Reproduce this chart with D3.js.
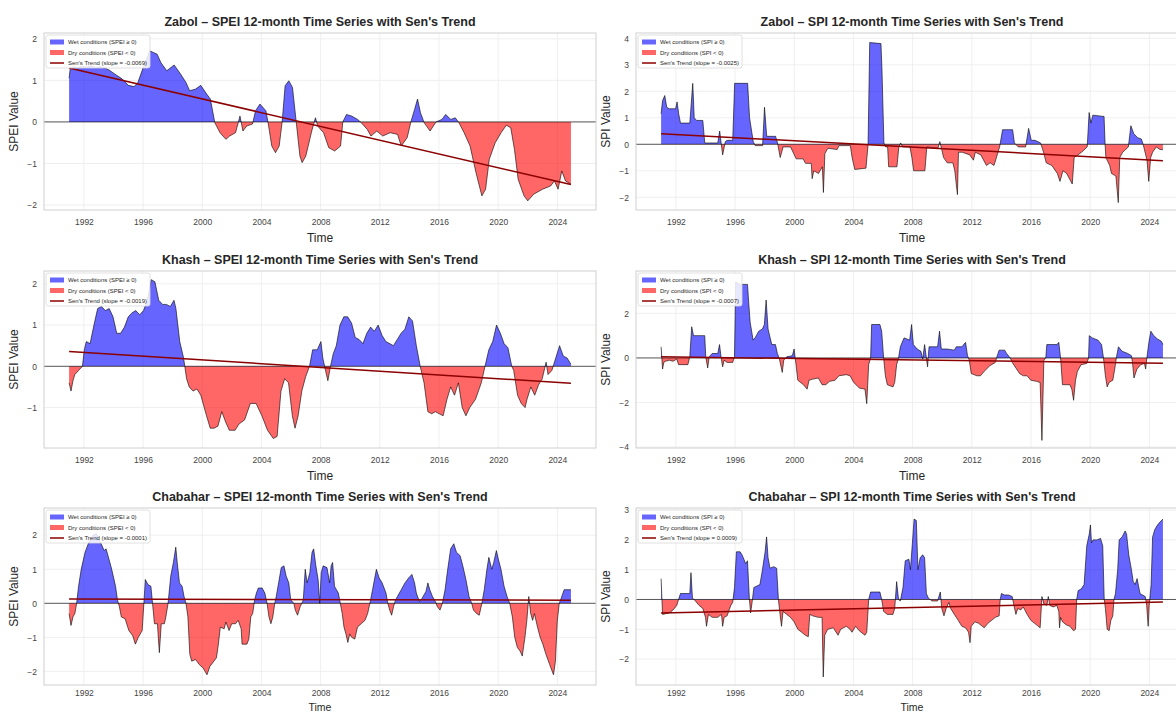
<!DOCTYPE html>
<html>
<head>
<meta charset="utf-8">
<script src="https://cdn.jsdelivr.net/npm/d3@7"></script>
<style>
  body { margin: 0; background: #ffffff; }
  svg { display: block; font-family: "Liberation Sans", Arial, sans-serif; }
</style>
</head>
<body>
<svg id="chart" width="1176" height="714"></svg>
<script>
// ---- 12-month drought index series, [decimal year, value] ----
const zabolSpei = [[1991.0,1.05],[1991.08,1.3],[1991.3,1.33],[1991.6,1.31],[1991.9,1.34],[1992.2,1.32],[1992.5,1.35],[1992.8,1.31],[1993.1,1.33],[1993.4,1.3],[1993.7,1.25],[1994.1,1.15],[1994.6,1.03],[1995.0,0.88],[1995.4,0.85],[1995.65,0.95],[1996.05,1.35],[1996.45,1.71],[1996.7,1.67],[1996.95,1.63],[1997.2,1.43],[1997.6,1.23],[1998.1,1.37],[1998.5,1.17],[1998.9,0.95],[1999.15,0.75],[1999.55,0.79],[1999.9,0.88],[2000.3,0.67],[2000.55,0.55],[2000.85,-0.02],[2001.2,-0.26],[2001.6,-0.42],[2001.85,-0.34],[2002.25,-0.26],[2002.55,0.14],[2002.75,-0.22],[2003.0,-0.1],[2003.4,-0.05],[2003.6,0.27],[2003.9,0.43],[2004.3,0.27],[2004.45,-0.02],[2004.7,-0.58],[2004.95,-0.74],[2005.2,-0.58],[2005.4,0.0],[2005.6,0.87],[2005.85,0.99],[2006.1,0.83],[2006.35,0.0],[2006.6,-0.82],[2006.75,-0.98],[2007.0,-0.82],[2007.4,-0.22],[2007.65,0.1],[2007.8,-0.1],[2008.2,-0.26],[2008.55,-0.62],[2008.95,-0.7],[2009.35,-0.58],[2009.5,0.0],[2009.75,0.18],[2010.1,0.14],[2010.5,0.06],[2010.75,-0.02],[2011.15,-0.18],[2011.4,-0.34],[2011.8,-0.22],[2012.2,-0.34],[2012.7,-0.26],[2013.2,-0.3],[2013.45,-0.58],[2013.85,-0.38],[2014.1,0.0],[2014.35,0.3],[2014.55,0.55],[2014.75,0.22],[2015.0,-0.02],[2015.4,-0.22],[2015.8,0.0],[2016.2,0.06],[2016.45,0.18],[2016.8,0.06],[2017.1,0.1],[2017.35,-0.02],[2017.7,-0.26],[2018.1,-0.58],[2018.5,-1.22],[2018.9,-1.78],[2019.15,-1.62],[2019.4,-0.9],[2019.8,-0.5],[2020.2,-0.26],[2020.55,-0.08],[2020.85,-0.14],[2021.1,-0.66],[2021.35,-1.38],[2021.75,-1.78],[2022.0,-1.9],[2022.4,-1.74],[2023.0,-1.62],[2023.55,-1.54],[2023.8,-1.42],[2024.05,-1.62],[2024.3,-1.18],[2024.55,-1.42],[2024.92,-1.5]];

const zabolSpi = [[1991.0,1.15],[1991.1,1.65],[1991.25,1.84],[1991.38,1.4],[1991.55,1.34],[1991.98,1.34],[1992.08,1.6],[1992.19,1.15],[1992.31,0.8],[1992.94,0.8],[1993.14,2.3],[1993.24,1.0],[1993.4,0.9],[1993.82,0.9],[1993.95,0.05],[1994.83,0.05],[1994.96,0.5],[1995.16,-0.4],[1995.34,0.1],[1995.46,0.15],[1995.84,0.15],[1995.97,2.3],[1996.85,2.3],[1996.98,1.0],[1997.23,0.1],[1997.36,-0.05],[1997.86,-0.05],[1997.99,1.4],[1998.14,0.3],[1998.74,0.3],[1998.87,0.05],[1999.05,-0.5],[1999.25,-0.1],[1999.75,-0.1],[2000.13,-0.55],[2000.6,-0.55],[2000.76,-0.72],[2001.15,-0.72],[2001.21,-1.3],[2001.32,-1.0],[2001.64,-1.1],[2001.9,-0.85],[2001.97,-1.82],[2002.07,-0.35],[2002.27,-0.15],[2002.9,-0.2],[2003.03,-0.05],[2003.79,-0.05],[2003.91,-0.5],[2004.09,-0.95],[2004.85,-0.9],[2004.99,0.0],[2005.1,3.84],[2005.86,3.8],[2005.93,2.8],[2006.06,0.05],[2006.18,-0.1],[2006.31,-0.1],[2006.38,-0.85],[2006.94,-0.85],[2007.07,-0.1],[2007.19,0.05],[2007.32,-0.1],[2007.82,-0.1],[2007.95,-0.5],[2008.07,-1.0],[2008.83,-1.0],[2008.96,-0.1],[2009.71,-0.15],[2009.84,0.1],[2009.97,-0.2],[2010.09,-0.5],[2010.34,-0.7],[2010.72,-0.7],[2010.85,-1.0],[2011.03,-1.9],[2011.1,-0.3],[2011.35,-0.3],[2011.86,-0.4],[2012.11,-0.6],[2012.24,-0.3],[2012.61,-0.4],[2012.99,-0.8],[2013.24,-0.7],[2013.5,-0.8],[2013.88,-0.1],[2014.08,0.55],[2014.76,0.55],[2014.88,0.05],[2015.14,-0.1],[2015.64,-0.1],[2015.84,0.6],[2016.02,0.15],[2016.27,0.15],[2016.65,0.05],[2016.85,-0.3],[2017.03,-0.7],[2017.41,-0.8],[2017.78,-1.1],[2017.96,-1.4],[2018.16,-1.0],[2018.41,-1.1],[2018.79,-1.5],[2018.92,-0.5],[2019.42,-0.3],[2019.8,-0.1],[2019.93,1.2],[2020.05,0.8],[2020.18,1.1],[2020.94,1.05],[2021.01,0.0],[2021.06,-0.5],[2021.32,-0.8],[2021.44,-1.1],[2021.74,-1.2],[2021.9,-2.2],[2022.0,-0.5],[2022.2,-0.3],[2022.58,-0.1],[2022.75,0.7],[2022.95,0.4],[2023.21,0.25],[2023.46,0.2],[2023.58,0.0],[2023.84,-0.6],[2023.96,-1.4],[2024.09,-0.5],[2024.22,-0.3],[2024.47,-0.1],[2024.72,-0.2],[2024.92,-0.2]];

const khashSpei = [[1991.0,-0.4],[1991.13,-0.6],[1991.26,-0.35],[1991.39,-0.2],[1991.64,-0.1],[1991.9,0.0],[1992.03,0.4],[1992.16,0.6],[1992.42,0.55],[1992.68,1.0],[1992.93,1.4],[1993.19,1.45],[1993.45,1.35],[1993.71,1.4],[1993.97,1.2],[1994.22,0.8],[1994.48,0.8],[1994.74,0.95],[1995.0,1.2],[1995.26,1.3],[1995.51,1.35],[1995.77,1.25],[1996.03,1.35],[1996.29,1.6],[1996.55,2.1],[1996.8,2.05],[1997.06,1.6],[1997.32,1.5],[1997.58,1.5],[1997.84,1.45],[1998.09,1.6],[1998.22,1.4],[1998.48,0.6],[1998.74,0.2],[1998.94,-0.3],[1999.12,-0.5],[1999.38,-0.6],[1999.64,-0.55],[1999.9,-0.7],[2000.29,-1.2],[2000.54,-1.5],[2000.8,-1.5],[2001.06,-1.45],[2001.32,-1.1],[2001.58,-1.35],[2001.83,-1.55],[2002.22,-1.55],[2002.48,-1.4],[2002.86,-1.3],[2003.25,-0.9],[2003.64,-0.9],[2004.03,-1.2],[2004.41,-1.55],[2004.8,-1.75],[2005.06,-1.7],[2005.32,-0.6],[2005.57,-0.3],[2005.83,-0.4],[2006.09,-1.2],[2006.27,-1.5],[2006.48,-1.2],[2006.73,-0.6],[2006.99,-0.25],[2007.25,0.0],[2007.46,0.4],[2007.77,0.4],[2008.02,0.6],[2008.15,0.2],[2008.33,-0.1],[2008.49,-0.35],[2008.67,0.0],[2008.85,0.3],[2009.06,0.5],[2009.31,1.0],[2009.57,1.2],[2009.83,1.2],[2010.09,1.05],[2010.34,0.7],[2010.6,0.65],[2010.86,0.55],[2011.12,0.8],[2011.38,0.95],[2011.63,0.85],[2011.89,1.0],[2012.15,0.75],[2012.41,0.6],[2012.67,0.55],[2012.92,0.5],[2013.18,0.65],[2013.44,0.8],[2013.7,0.9],[2013.96,1.2],[2014.21,1.1],[2014.47,0.5],[2014.73,0.0],[2014.99,-0.4],[2015.25,-1.1],[2015.5,-1.15],[2015.76,-1.1],[2016.02,-1.15],[2016.28,-1.2],[2016.54,-0.8],[2016.79,-0.5],[2017.05,-0.7],[2017.31,-0.4],[2017.57,-1.0],[2017.82,-1.2],[2018.08,-1.0],[2018.47,-0.8],[2018.86,-0.4],[2019.11,0.0],[2019.37,0.4],[2019.63,0.6],[2019.89,1.0],[2020.15,0.8],[2020.4,0.55],[2020.66,0.45],[2020.92,0.0],[2021.05,-0.1],[2021.31,-0.7],[2021.56,-0.9],[2021.82,-1.0],[2021.95,-0.8],[2022.21,-0.5],[2022.47,-0.7],[2022.73,-0.45],[2022.98,-0.3],[2023.24,0.1],[2023.37,-0.2],[2023.63,-0.1],[2023.89,0.2],[2024.15,0.5],[2024.4,0.25],[2024.66,0.2],[2024.92,0.05]];

const khashSpi = [[1991.0,0.5],[1991.1,-0.5],[1991.18,-0.2],[1991.3,-0.15],[1991.55,-0.1],[1991.81,-0.15],[1992.06,-0.05],[1992.18,-0.3],[1992.81,-0.3],[1992.94,0.05],[1993.07,1.4],[1993.19,1.0],[1993.95,1.0],[1994.02,0.05],[1994.15,-0.45],[1994.25,0.05],[1994.45,0.2],[1994.83,0.2],[1994.95,0.6],[1995.06,0.0],[1995.16,-0.4],[1995.26,-0.1],[1995.46,-0.2],[1995.84,-0.2],[1995.96,0.05],[1996.04,3.4],[1996.34,3.3],[1996.84,3.3],[1996.92,2.5],[1997.02,1.6],[1997.22,0.8],[1997.35,0.9],[1997.6,1.2],[1997.85,1.3],[1997.98,1.5],[1998.1,2.6],[1998.23,1.3],[1998.48,0.6],[1998.73,0.6],[1998.86,0.2],[1998.98,0.0],[1999.11,-0.4],[1999.19,-0.65],[1999.29,-0.1],[1999.49,0.05],[1999.87,0.1],[1999.99,0.4],[2000.12,-0.3],[2000.24,-1.0],[2000.62,-1.2],[2000.87,-1.4],[2001.0,-1.0],[2001.25,-0.95],[2001.63,-0.9],[2001.88,-1.2],[2002.13,-1.2],[2002.39,-1.05],[2002.76,-1.0],[2003.02,-0.8],[2003.52,-0.75],[2003.77,-0.8],[2004.02,-1.1],[2004.4,-1.35],[2004.78,-1.4],[2004.9,-2.05],[2005.03,-0.3],[2005.16,0.0],[2005.23,1.5],[2005.79,1.5],[2005.91,1.2],[2006.04,0.0],[2006.16,-0.8],[2006.29,-1.2],[2006.67,-1.3],[2006.79,-1.1],[2006.92,-0.3],[2007.05,0.0],[2007.17,0.5],[2007.42,0.9],[2007.8,0.8],[2007.93,1.5],[2008.05,0.6],[2008.31,0.4],[2008.56,0.3],[2008.68,-0.05],[2008.81,0.6],[2008.93,0.0],[2009.01,-0.4],[2009.11,0.5],[2009.69,0.5],[2009.82,1.2],[2009.94,0.4],[2010.32,0.4],[2010.82,0.35],[2010.95,0.5],[2011.33,0.5],[2011.58,0.7],[2011.71,0.1],[2011.83,-0.1],[2011.96,-0.7],[2012.34,-0.8],[2012.59,-0.8],[2012.84,-0.6],[2013.22,-0.35],[2013.59,-0.2],[2013.72,0.1],[2013.85,0.35],[2014.22,0.35],[2014.35,0.2],[2014.6,0.0],[2014.73,-0.2],[2014.98,-0.45],[2015.23,-0.7],[2015.48,-0.8],[2015.74,-0.8],[2015.99,-1.0],[2016.37,-1.05],[2016.62,-1.1],[2016.74,-3.7],[2016.87,-0.1],[2017.0,0.0],[2017.07,0.6],[2017.75,0.6],[2017.88,0.7],[2018.0,0.0],[2018.13,-1.2],[2018.63,-1.2],[2018.76,-1.4],[2018.88,-1.9],[2019.01,-1.0],[2019.14,-0.6],[2019.39,-0.3],[2019.77,-0.25],[2019.89,0.0],[2019.94,1.0],[2020.14,0.9],[2020.52,0.8],[2020.77,0.6],[2020.9,0.0],[2021.03,-0.8],[2021.15,-1.3],[2021.28,-1.1],[2021.53,-1.0],[2021.66,-0.5],[2021.78,0.05],[2021.91,0.5],[2022.16,0.3],[2022.54,0.2],[2022.79,0.1],[2022.86,-0.2],[2022.96,-0.9],[2023.16,-0.5],[2023.42,-0.3],[2023.67,-0.25],[2023.75,-0.5],[2023.85,0.1],[2023.97,0.7],[2024.1,1.2],[2024.3,1.0],[2024.55,0.85],[2024.81,0.75],[2024.92,0.6]];

const chabaharSpei = [[1991.0,-0.3],[1991.13,-0.65],[1991.26,-0.4],[1991.39,-0.3],[1991.51,0.0],[1991.64,0.5],[1991.82,1.0],[1992.08,1.5],[1992.34,1.8],[1992.6,2.0],[1992.85,2.05],[1993.11,1.8],[1993.37,1.55],[1993.5,1.6],[1993.63,1.4],[1993.88,1.0],[1994.14,0.5],[1994.27,0.1],[1994.4,-0.1],[1994.53,-0.4],[1994.78,-0.45],[1995.04,-0.8],[1995.3,-0.95],[1995.48,-1.2],[1995.68,-1.0],[1995.94,-0.8],[1996.07,0.1],[1996.15,0.7],[1996.33,0.55],[1996.53,0.5],[1996.64,0.0],[1996.77,-0.6],[1996.97,-0.6],[1997.1,-1.45],[1997.23,-0.6],[1997.44,-0.6],[1997.54,-0.4],[1997.69,0.0],[1997.87,0.8],[1998.05,1.2],[1998.21,1.65],[1998.31,1.2],[1998.46,0.6],[1998.64,0.5],[1998.77,0.2],[1998.9,0.0],[1999.03,-0.4],[1999.16,-1.5],[1999.29,-1.7],[1999.55,-1.65],[1999.8,-1.8],[2000.06,-1.9],[2000.32,-2.1],[2000.52,-1.85],[2000.7,-1.75],[2000.96,-1.6],[2001.09,-1.2],[2001.22,-0.7],[2001.48,-0.75],[2001.6,-0.55],[2001.81,-0.8],[2001.99,-0.6],[2002.25,-0.6],[2002.43,-0.5],[2002.63,-0.75],[2002.69,-1.2],[2003.02,-1.2],[2003.15,-1.05],[2003.28,-0.4],[2003.41,-0.3],[2003.54,0.1],[2003.66,0.3],[2003.79,0.45],[2004.05,0.45],[2004.23,0.3],[2004.38,0.0],[2004.51,-0.4],[2004.64,-0.6],[2004.77,-0.4],[2004.9,0.0],[2005.0,0.2],[2005.16,0.6],[2005.34,1.05],[2005.52,1.1],[2005.67,0.8],[2005.85,0.6],[2005.98,0.1],[2006.19,0.0],[2006.29,-0.2],[2006.44,-0.35],[2006.62,-0.1],[2006.83,0.1],[2006.96,1.0],[2007.09,0.6],[2007.27,0.9],[2007.42,1.5],[2007.53,1.6],[2007.68,1.1],[2007.83,0.7],[2007.94,0.0],[2008.04,0.9],[2008.17,1.1],[2008.43,1.05],[2008.61,0.6],[2008.71,1.1],[2008.81,1.2],[2008.94,0.5],[2009.07,0.4],[2009.2,0.3],[2009.33,0.0],[2009.46,-0.3],[2009.58,-0.7],[2009.71,-0.9],[2009.84,-1.15],[2009.97,-0.9],[2010.1,-1.0],[2010.31,-1.05],[2010.49,-0.7],[2010.74,-0.6],[2011.0,-0.5],[2011.18,-0.3],[2011.33,0.0],[2011.51,0.4],[2011.77,1.0],[2011.95,0.75],[2012.16,0.6],[2012.42,0.3],[2012.54,0.0],[2012.67,-0.2],[2012.8,-0.35],[2012.93,-0.1],[2013.06,0.1],[2013.19,0.2],[2013.45,0.4],[2013.7,0.6],[2013.96,0.75],[2014.17,0.85],[2014.35,0.6],[2014.47,0.3],[2014.68,0.05],[2014.86,0.15],[2015.12,0.35],[2015.25,0.6],[2015.38,0.4],[2015.56,0.2],[2015.76,0.05],[2015.89,-0.1],[2016.07,-0.2],[2016.23,0.0],[2016.41,0.4],[2016.59,1.0],[2016.79,1.6],[2017.0,1.75],[2017.18,1.5],[2017.43,1.4],[2017.61,1.1],[2017.82,0.7],[2018.03,0.2],[2018.21,0.0],[2018.33,-0.2],[2018.54,-0.3],[2018.72,-0.35],[2018.9,0.0],[2019.06,0.4],[2019.24,1.0],[2019.37,1.35],[2019.57,1.0],[2019.7,1.2],[2019.88,1.55],[2020.01,1.3],[2020.19,1.0],[2020.4,0.5],[2020.6,0.2],[2020.78,0.0],[2020.96,-0.4],[2021.12,-1.0],[2021.3,-1.3],[2021.48,-1.4],[2021.63,-1.55],[2021.81,-1.0],[2021.94,-0.5],[2022.07,0.2],[2022.2,-0.3],[2022.33,-0.5],[2022.45,-0.3],[2022.66,-0.7],[2022.84,-1.0],[2023.02,-1.2],[2023.23,-1.5],[2023.48,-1.8],[2023.74,-2.1],[2023.87,-1.7],[2024.0,-0.5],[2024.13,0.0],[2024.26,0.15],[2024.46,0.4],[2024.92,0.4]];

const chabaharSpi = [[1991.0,0.7],[1991.1,-0.5],[1991.55,-0.45],[1991.81,-0.35],[1992.06,-0.2],[1992.18,0.0],[1992.31,0.2],[1992.94,0.2],[1993.02,0.9],[1993.12,0.05],[1993.32,-0.05],[1993.57,-0.2],[1993.82,-0.3],[1994.0,-0.6],[1994.07,-0.9],[1994.2,-0.5],[1994.45,-0.6],[1994.83,-0.6],[1995.08,-0.5],[1995.16,-0.9],[1995.26,-0.6],[1995.46,-0.55],[1995.71,-0.2],[1995.84,-0.1],[1995.96,0.4],[1996.09,1.6],[1996.34,1.6],[1996.47,1.5],[1996.72,1.2],[1996.84,1.3],[1996.97,0.0],[1997.05,-0.45],[1997.15,-0.1],[1997.27,0.4],[1997.47,0.45],[1997.68,0.5],[1997.85,1.0],[1998.03,1.6],[1998.13,2.1],[1998.23,1.4],[1998.36,1.05],[1998.61,1.1],[1998.81,1.05],[1998.93,0.0],[1999.04,-0.5],[1999.14,-0.9],[1999.24,-0.4],[1999.49,-0.5],[1999.74,-0.6],[1999.99,-0.75],[2000.24,-1.0],[2000.5,-1.1],[2000.75,-1.2],[2000.95,-1.25],[2001.05,-0.5],[2001.25,-0.55],[2001.63,-0.6],[2001.88,-0.6],[2001.96,-2.6],[2002.06,-1.2],[2002.26,-1.0],[2002.64,-0.95],[2002.96,-1.2],[2003.14,-1.0],[2003.52,-0.9],[2003.77,-1.0],[2003.9,-1.1],[2004.15,-0.9],[2004.4,-1.05],[2004.78,-1.2],[2004.9,-1.1],[2005.03,0.0],[2005.16,0.25],[2005.79,0.25],[2005.91,0.0],[2006.04,-0.4],[2006.29,-0.5],[2006.67,-0.5],[2006.79,-0.3],[2006.92,0.6],[2007.05,0.0],[2007.17,-0.05],[2007.35,0.4],[2007.5,1.3],[2007.75,1.35],[2007.85,1.0],[2008.0,2.0],[2008.1,2.7],[2008.25,2.65],[2008.36,1.0],[2008.51,1.4],[2008.68,1.5],[2008.81,1.4],[2008.93,0.2],[2009.06,0.05],[2009.31,-0.05],[2009.69,-0.05],[2009.87,0.25],[2009.97,-0.3],[2010.12,-0.55],[2010.27,-0.3],[2010.45,-0.1],[2010.57,-0.3],[2010.82,-0.5],[2011.08,-0.7],[2011.33,-0.9],[2011.58,-0.95],[2011.78,-1.1],[2011.88,-1.45],[2011.96,-0.9],[2012.21,-0.75],[2012.46,-0.8],[2012.71,-0.9],[2012.84,-0.95],[2013.09,-0.8],[2013.34,-0.7],[2013.59,-0.6],[2013.85,-0.55],[2013.92,0.0],[2014.0,0.2],[2014.22,0.15],[2014.48,0.15],[2014.73,0.1],[2014.85,-0.2],[2014.98,-0.5],[2015.11,-0.3],[2015.31,-0.35],[2015.48,-0.25],[2015.74,-0.5],[2015.99,-0.7],[2016.24,-0.8],[2016.37,-0.85],[2016.49,-0.9],[2016.62,-0.95],[2016.74,0.1],[2016.87,-0.15],[2017.07,-0.2],[2017.17,0.1],[2017.27,-0.2],[2017.5,-0.25],[2017.75,-0.2],[2017.88,-0.4],[2017.93,-0.95],[2018.0,-0.6],[2018.13,-0.75],[2018.38,-0.85],[2018.63,-0.9],[2018.88,-1.05],[2019.01,-1.0],[2019.09,0.0],[2019.19,0.3],[2019.39,0.35],[2019.59,0.5],[2019.77,1.8],[2019.94,2.2],[2020.02,2.5],[2020.09,1.9],[2020.19,2.0],[2020.45,2.0],[2020.7,2.05],[2020.85,1.8],[2020.95,0.0],[2021.03,-0.3],[2021.15,-1.0],[2021.28,-1.05],[2021.4,-0.7],[2021.53,-0.55],[2021.61,0.0],[2021.71,0.2],[2021.86,1.0],[2021.96,2.0],[2022.16,2.1],[2022.36,2.3],[2022.46,2.2],[2022.61,1.5],[2022.79,1.0],[2022.91,0.6],[2023.04,0.5],[2023.17,0.7],[2023.37,0.2],[2023.54,0.15],[2023.72,0.1],[2023.82,-0.2],[2023.92,-0.9],[2023.99,-0.2],[2024.12,0.5],[2024.22,2.1],[2024.37,2.35],[2024.55,2.5],[2024.72,2.6],[2024.92,2.7]];

// ---- per-panel labels and values ----
const stations = ["Zabol", "Khash", "Chabahar"];
const indices = ["SPEI", "SPI"];
const seriesByPanel = [zabolSpei, zabolSpi, khashSpei, khashSpi, chabaharSpei, chabaharSpi];
// Sen's slope (per month) and the trend value at the first month
const senSlopes = [-0.0069, -0.0025, -0.0019, -0.0007, -0.0001, 0.0009];
const senStarts = [1.30, 0.40, 0.36, 0.05, 0.13, -0.45];
const yDomains = [[-2.12, 2.14], [-2.48, 4.2], [-1.98, 2.31], [-4.04, 3.9], [-2.4, 2.8], [-2.87, 3.07]];
const yTickValues = [[-2, -1, 0, 1, 2], [-2, -1, 0, 1, 2, 3, 4], [-1, 0, 1, 2], [-4, -2, 0, 2], [-2, -1, 0, 1, 2], [-2, -1, 0, 1, 2, 3]];
const yearTicks = [1992, 1996, 2000, 2004, 2008, 2012, 2016, 2020, 2024];

// monthly record: Jan 1991 .. Dec 2024
const firstYear = 1991, monthCount = 408;
const lastYear = firstYear + (monthCount - 1) / 12;

// ---- layout ----
const colLeft = [44, 636];
const rowTop = [33, 271, 508];
const plotW = 552, plotH = 177;
const pad = 0.05 * (lastYear - firstYear);
const xDomain = [firstYear - pad, lastYear + pad];

const C = {
  wet: "#0000ff", dry: "#ff0000", trend: "#8b0000",
  grid: "#ebebeb", frame: "#d0d0d0", text: "#262626", tick: "#444444"
};

const svg = d3.select("#chart");
const defs = svg.append("defs");

seriesByPanel.forEach((series, i) => {
  const row = Math.floor(i / 2), col = i % 2;
  const idx = indices[col];
  const left = colLeft[col], top = rowTop[row];
  const lastRow = row === 2;

  const x = d3.scaleLinear().domain(xDomain).range([0, plotW]);
  const y = d3.scaleLinear().domain(yDomains[i]).range([plotH, 0]);
  const zeroY = y(0);

  const g = svg.append("g").attr("transform", `translate(${left},${top})`);

  // clip regions: whole plot, above zero, below zero
  defs.append("clipPath").attr("id", `plot${i}`)
    .append("rect").attr("width", plotW).attr("height", plotH);
  defs.append("clipPath").attr("id", `above${i}`)
    .append("rect").attr("width", plotW).attr("height", zeroY);
  defs.append("clipPath").attr("id", `below${i}`)
    .append("rect").attr("y", zeroY).attr("width", plotW).attr("height", plotH - zeroY);

  // grid
  const grid = g.append("g");
  grid.selectAll("line.v").data(yearTicks).join("line")
    .attr("x1", d => x(d)).attr("x2", d => x(d))
    .attr("y1", 0).attr("y2", plotH)
    .attr("stroke", C.grid).attr("stroke-width", 0.8);
  grid.selectAll("line.h").data(yTickValues[i]).join("line")
    .attr("x1", 0).attr("x2", plotW)
    .attr("y1", d => y(d)).attr("y2", d => y(d))
    .attr("stroke", C.grid).attr("stroke-width", 0.8);

  const body = g.append("g").attr("clip-path", `url(#plot${i})`);

  const area = d3.area()
    .x(d => x(d[0])).y0(zeroY).y1(d => y(d[1]));
  body.append("path").datum(series).attr("d", area)
    .attr("fill", C.wet).attr("fill-opacity", 0.6)
    .attr("clip-path", `url(#above${i})`);
  body.append("path").datum(series).attr("d", area)
    .attr("fill", C.dry).attr("fill-opacity", 0.6)
    .attr("clip-path", `url(#below${i})`);

  // zero reference line
  body.append("line")
    .attr("x1", 0).attr("x2", plotW).attr("y1", zeroY).attr("y2", zeroY)
    .attr("stroke", "#000").attr("stroke-width", 0.8).attr("stroke-opacity", 0.8);

  // index outline
  const line = d3.line().x(d => x(d[0])).y(d => y(d[1]));
  body.append("path").datum(series).attr("d", line)
    .attr("fill", "none").attr("stroke", "#000")
    .attr("stroke-width", 0.8).attr("stroke-opacity", 0.75)
    .attr("stroke-linejoin", "round");

  // Sen's trend line: value = start + slope * monthIndex
  const trend = [0, monthCount - 1].map(m => [firstYear + m / 12, senStarts[i] + senSlopes[i] * m]);
  body.append("path").datum(trend).attr("d", line)
    .attr("fill", "none").attr("stroke", C.trend).attr("stroke-width", 1.5);

  // frame
  g.append("rect").attr("width", plotW).attr("height", plotH)
    .attr("fill", "none").attr("stroke", C.frame).attr("stroke-width", 1);

  // axes
  const yAxis = g.append("g")
    .call(d3.axisLeft(y).tickValues(yTickValues[i]).tickFormat(d3.format("d")).tickSize(0).tickPadding(7));
  const xAxis = g.append("g").attr("transform", `translate(0,${plotH})`)
    .call(d3.axisBottom(x).tickValues(yearTicks).tickFormat(d3.format("d")).tickSize(0)
      .tickPadding(lastRow ? 5 : 9));
  [yAxis, xAxis].forEach(a => {
    a.select(".domain").remove();
    a.selectAll("text").attr("fill", C.tick).style("font-size", "8.5px")
      .style("font-family", '"Liberation Sans", Arial, sans-serif');
  });

  // titles and axis labels
  g.append("text").attr("x", plotW / 2).attr("y", -7)
    .attr("text-anchor", "middle").attr("fill", C.text)
    .style("font-size", "12.5px").style("font-weight", "bold")
    .text(`${stations[row]} – ${idx} 12-month Time Series with Sen's Trend`);
  g.append("text").attr("x", plotW / 2).attr("y", lastRow ? plotH + 26 : plotH + 32)
    .attr("text-anchor", "middle").attr("fill", C.text)
    .style("font-size", lastRow ? "10.5px" : "12px").text("Time");
  g.append("text")
    .attr("transform", `translate(-26,${plotH / 2}) rotate(-90)`)
    .attr("text-anchor", "middle").attr("fill", C.text)
    .style("font-size", "12px").text(`${idx} Value`);

  // legend
  const slopeText = d3.format(".4f")(senSlopes[i]).replace("−", "-");
  const items = [
    { kind: "patch", color: C.wet, label: `Wet conditions (${idx} ≥ 0)` },
    { kind: "patch", color: C.dry, label: `Dry conditions (${idx} < 0)` },
    { kind: "line", color: C.trend, label: `Sen's Trend (slope = ${slopeText})` }
  ];
  const lg = g.append("g").attr("transform", "translate(2,2)");
  lg.append("rect").attr("width", 104).attr("height", 33).attr("rx", 2)
    .attr("fill", "#fff").attr("fill-opacity", 0.85)
    .attr("stroke", "#d8d8d8").attr("stroke-width", 0.8);
  const it = lg.selectAll("g").data(items).join("g")
    .attr("transform", (d, k) => `translate(4,${7 + k * 10.5})`);
  it.filter(d => d.kind === "patch").append("rect")
    .attr("x", 0).attr("y", -2.5).attr("width", 14).attr("height", 5)
    .attr("fill", d => d.color).attr("fill-opacity", 0.6);
  it.filter(d => d.kind === "line").append("line")
    .attr("x1", 0).attr("x2", 14).attr("y1", 0).attr("y2", 0)
    .attr("stroke", d => d.color).attr("stroke-width", 1.5);
  it.append("text").attr("x", 18).attr("y", 2)
    .attr("fill", C.text).style("font-size", "6px").text(d => d.label);
});
</script>
</body>
</html>
